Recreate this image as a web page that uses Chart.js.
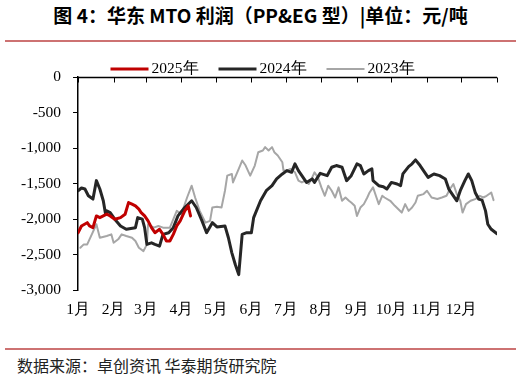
<!DOCTYPE html>
<html><head><meta charset="utf-8">
<script src="https://cdn.jsdelivr.net/npm/chart.js@4"></script>
<style>
html,body{margin:0;padding:0;background:#fff;}
body{width:521px;height:379px;position:relative;overflow:hidden;}
#title{position:absolute;left:0;top:4px;width:521px;text-align:center;font-family:"Noto Sans CJK SC";font-weight:bold;font-size:19px;color:#000;line-height:22px;white-space:nowrap;}
.rule{position:absolute;left:5px;width:511px;height:2px;background:#cd7272;}
#src{position:absolute;left:17px;top:355px;font-family:"Noto Sans CJK SC";font-size:16px;color:#222;line-height:20px;white-space:nowrap;}
#wrap{position:absolute;left:0;top:45px;width:521px;height:290px;}
</style></head>
<body>
<div id="title">图 4：华东 MTO 利润（PP&amp;EG 型）|单位：元/吨</div>
<div class="rule" style="top:40px"></div>
<div id="wrap"><canvas id="c"></canvas></div>
<div class="rule" style="top:348px"></div>
<div id="src">数据来源：卓创资讯 华泰期货研究院</div>
<script>
// day-of-year (0 = Jan 1) and profit values (元/吨)
const days2025 = [0,3,8,10,13,16,19,22,25,28,32,37,41,44,47,50,53,55,58,61,64,67,71,74,77,80,83,86,89,93,96,98];
const vals2025 = [-2190,-2094,-2048,-2094,-2118,-1953,-1977,-1953,-1929,-1953,-2000,-1977,-1929,-1765,-1787,-1811,-1858,-1906,-1953,-2023,-2118,-2189,-2141,-2212,-2306,-2306,-2212,-2094,-2023,-1882,-1811,-1953];

const days2024 = [0,3,6,9,13,16,19,22,24,25,28,32,37,42,50,52,56,58,60,64,67,71,74,79,83,87,93,99,103,108,112,117,121,128,131,134,137,140,143,147,151,153,159,164,169,173,178,182,186,189,192,195,199,204,206,211,217,221,225,230,234,238,243,246,249,253,256,257,262,266,269,273,278,281,283,288,291,294,298,302,305,310,315,320,323,327,330,333,337,340,343,346,349,352,355,357,360,365];
const vals2024 = [-1599,-1561,-1575,-1670,-1716,-1457,-1575,-1740,-1929,-1882,-1906,-1999,-2094,-2141,-2118,-1977,-1999,-2118,-2353,-2331,-2353,-2377,-2212,-2189,-2118,-1953,-1835,-1740,-1835,-2023,-2189,-2048,-2108,-2094,-2260,-2472,-2636,-2778,-2212,-2189,-2189,-1977,-1740,-1599,-1528,-1433,-1363,-1316,-1340,-1221,-1316,-1387,-1482,-1433,-1482,-1354,-1387,-1269,-1245,-1269,-1457,-1387,-1221,-1245,-1363,-1316,-1292,-1457,-1528,-1542,-1575,-1482,-1504,-1528,-1363,-1259,-1221,-1165,-1245,-1340,-1411,-1363,-1387,-1433,-1575,-1670,-1740,-1599,-1457,-1363,-1457,-1623,-1716,-1731,-1882,-2070,-2141,-2203];

const days2023 = [2,5,8,12,16,19,25,29,31,35,38,42,47,50,53,57,60,61,66,70,74,80,86,90,95,99,102,106,111,115,117,121,125,128,130,134,135,140,143,146,150,154,157,161,163,166,169,171,174,178,179,182,185,189,192,195,198,201,204,206,209,212,215,218,221,224,227,230,233,236,238,241,243,246,249,252,254,257,260,262,265,267,272,276,282,285,288,291,294,296,301,304,308,313,317,321,324,327,330,333,335,338,342,346,350,353,356,360,362];
const vals2023 = [-2401,-2353,-2353,-2212,-2070,-2260,-2236,-2212,-2331,-2282,-2212,-2236,-2260,-2306,-2401,-2448,-2353,-2070,-2118,-2094,-2118,-2118,-1882,-1929,-1694,-1528,-1694,-1882,-2048,-2023,-1835,-1825,-1835,-1599,-1387,-1363,-1482,-1292,-1174,-1245,-1387,-1245,-1057,-1033,-986,-1033,-986,-1057,-1104,-1199,-1316,-1316,-1292,-1340,-1457,-1482,-1457,-1504,-1411,-1340,-1411,-1552,-1670,-1528,-1599,-1694,-1552,-1740,-1694,-1740,-1765,-1811,-1953,-1835,-1787,-1694,-1623,-1552,-1694,-1787,-1670,-1694,-1740,-1811,-1906,-1787,-1882,-1835,-1765,-1670,-1646,-1599,-1694,-1716,-1694,-1670,-1575,-1504,-1646,-1740,-1906,-1787,-1740,-1716,-1670,-1694,-1670,-1623,-1731];

const seriesNames = ['2025年','2024年','2023年'];
const monthStarts = [0,31,59,90,120,151,181,212,243,273,304,334,365];
const monthLabels = ['1月','2月','3月','4月','5月','6月','7月','8月','9月','10月','11月','12月'];
const yTicks = [0,-500,-1000,-1500,-2000,-2500,-3000];

const toPts = (d, v) => d.map((x, i) => ({x, y: v[i]}));
const SERIF = '"Liberation Serif","Times New Roman",serif';

const topAxis = {
  id: 'topAxis',
  afterDatasetsDraw(chart) {
    const {ctx, scales: {x, y}} = chart;
    const y0 = Math.round(y.getPixelForValue(0)) + 0.5;
    ctx.save();
    ctx.strokeStyle = '#000';
    ctx.lineWidth = 1.5;
    ctx.beginPath();
    ctx.moveTo(x.getPixelForValue(monthStarts[0]), y0);
    ctx.lineTo(x.getPixelForValue(monthStarts[monthStarts.length - 1]), y0);
    ctx.stroke();
    ctx.lineWidth = 1;
    ctx.beginPath();
    monthStarts.forEach(m => {
      const px = Math.round(x.getPixelForValue(m)) + 0.5;
      ctx.moveTo(px, y0);
      ctx.lineTo(px, y0 + 5);
    });
    ctx.stroke();
    ctx.restore();
  }
};

const lineLegend = {
  id: 'lineLegend',
  afterDraw(chart) {
    const {ctx, chartArea} = chart;
    const ds = chart.data.datasets;
    ctx.save();
    ctx.font = '15.5px ' + SERIF;
    ctx.textBaseline = 'middle';
    const lineLen = 38, gapText = 3, gapItem = 20;
    const widths = ds.map(d => lineLen + gapText + ctx.measureText(d.label).width);
    const total = widths.reduce((a, b) => a + b, 0) + gapItem * (ds.length - 1);
    let xPos = (chart.width - total) / 2 + 2;
    const yPos = chartArea.top - 8;
    ds.forEach((d, i) => {
      ctx.strokeStyle = d.borderColor;
      ctx.lineWidth = d.borderWidth;
      ctx.beginPath();
      ctx.moveTo(xPos, yPos);
      ctx.lineTo(xPos + lineLen, yPos);
      ctx.stroke();
      ctx.fillStyle = '#000';
      ctx.fillText(d.label, xPos + lineLen + gapText, yPos);
      xPos += widths[i] + gapItem;
    });
    ctx.restore();
  }
};

new Chart(document.getElementById('c'), {
  type: 'line',
  data: {
    datasets: [
      {label: seriesNames[0], data: toPts(days2025, vals2025), borderColor: '#c00000', borderWidth: 3, order: 1},
      {label: seriesNames[1], data: toPts(days2024, vals2024), borderColor: '#262626', borderWidth: 3, order: 2},
      {label: seriesNames[2], data: toPts(days2023, vals2023), borderColor: '#a6a6a6', borderWidth: 2, order: 3}
    ]
  },
  options: {
    responsive: true,
    maintainAspectRatio: false,
    animation: false,
    parsing: false,
    elements: {point: {radius: 0}, line: {tension: 0, borderJoinStyle: 'round', borderCapStyle: 'round'}},
    layout: {padding: {top: 32, left: 9, right: 24, bottom: 6}},
    plugins: {legend: {display: false}, tooltip: {enabled: false}},
    scales: {
      x: {
        type: 'linear', min: 0, max: 365,
        afterBuildTicks: s => { s.ticks = monthStarts.map(v => ({value: v})); },
        ticks: {
          autoSkip: false, maxRotation: 0, padding: 10, color: '#000',
          font: {family: SERIF, size: 15.5},
          callback: (v, i) => monthLabels[i] || ''
        },
        grid: {display: false, drawTicks: false},
        border: {display: false}
      },
      y: {
        min: -3000, max: 0,
        afterBuildTicks: s => { s.ticks = yTicks.map(v => ({value: v})); },
        ticks: {
          padding: 12, color: '#000',
          font: {family: SERIF, size: 15.5},
          callback: v => v.toLocaleString('en-US')
        },
        grid: {display: true, drawOnChartArea: false, drawTicks: true, tickLength: 5, color: '#000', lineWidth: 1},
        border: {display: true, color: '#000', width: 1.5}
      }
    }
  },
  plugins: [topAxis, lineLegend]
});
</script>
</body></html>
